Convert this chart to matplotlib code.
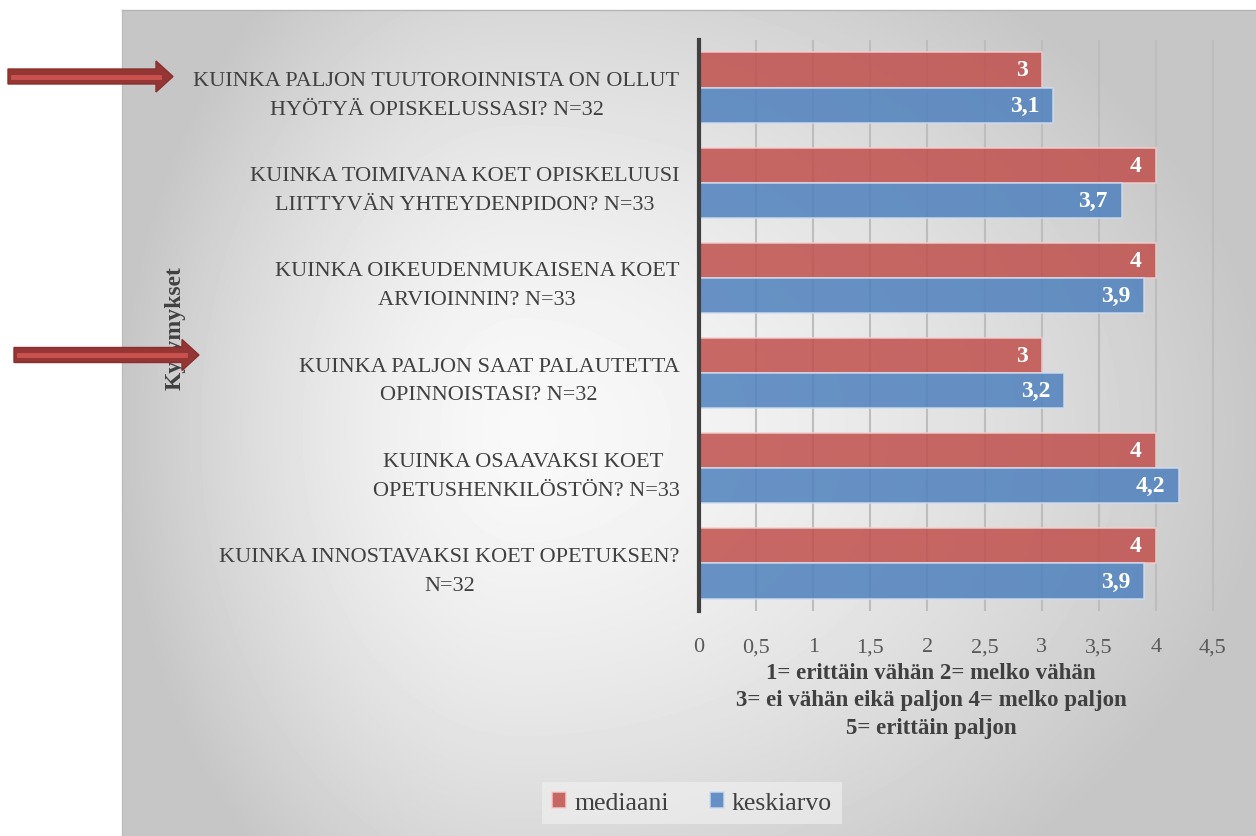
import numpy as np
import matplotlib.pyplot as plt
from matplotlib.patches import Polygon
from matplotlib.ticker import FuncFormatter

# kysymykset ylhaalta alas
kysymykset = [
    "KUINKA PALJON TUUTOROINNISTA ON OLLUT\nHYÖTYÄ OPISKELUSSASI? N=32",
    "KUINKA TOIMIVANA KOET OPISKELUUSI\nLIITTYVÄN YHTEYDENPIDON? N=33",
    "KUINKA OIKEUDENMUKAISENA KOET\nARVIOINNIN? N=33",
    "KUINKA PALJON SAAT PALAUTETTA\nOPINNOISTASI? N=32",
    "KUINKA OSAAVAKSI KOET \nOPETUSHENKILÖSTÖN? N=33",
    "KUINKA INNOSTAVAKSI KOET OPETUKSEN?\nN=32",
]
mediaani = [3, 4, 4, 3, 4, 4]
keskiarvo = [3.1, 3.7, 3.9, 3.2, 4.2, 3.9]
x_ticks = [0, 0.5, 1, 1.5, 2, 2.5, 3, 3.5, 4, 4.5]
selite = ("1= erittäin vähän 2= melko vähän\n"
          "3= ei vähän eikä paljon 4= melko paljon\n"
          "5= erittäin paljon")

SERIF = ["Liberation Serif", "DejaVu Serif"]
W, H = 1256, 837
fig = plt.figure(figsize=(W / 100, H / 100), dpi=100)


def fx(px):
    return px / W


def fy(py):
    return 1 - py / H


# harmaa liukuvari taustalle
bg = fig.add_axes([fx(122), 0, 1 - fx(122), fy(11)])
yy, xx = np.mgrid[0:826, 0:1134].astype(float)
cx, cy = 398, 420
rx = np.where(xx < cx, 400.0, 750.0)
r = np.sqrt(((xx - cx) / rx) ** 2 + ((yy - cy) / 560.0) ** 2)
shade = 0.975 - 0.2 * np.clip(r, 0, 1) ** 1.5
bg.imshow(shade, cmap="gray", vmin=0, vmax=1, aspect="auto", interpolation="bilinear")
bg.axis("off")
fig.add_artist(plt.Line2D([fx(122), 1], [fy(11), fy(11)], color="#b5b5b5", lw=1))
fig.add_artist(plt.Line2D([fx(122), fx(122)], [0, fy(11)], color="#bdbdbd", lw=1))

# varsinainen kaavio
ax = fig.add_axes([fx(699), fy(612), 571 / W, (612 - 41) / H])
ax.set_facecolor("none")
y = np.arange(len(kysymykset))
h = 0.37
ax.barh(y - h / 2, mediaani, height=h, color="#C0504D", alpha=0.85,
        edgecolor="#f3cfce", linewidth=1.2, label="mediaani", zorder=3)
ax.barh(y + h / 2, keskiarvo, height=h, color="#4F81BD", alpha=0.85,
        edgecolor="#cfdcf0", linewidth=1.2, label="keskiarvo", zorder=3)

for i in range(len(kysymykset)):
    for val, off in ((mediaani[i], -h / 2), (keskiarvo[i], h / 2)):
        ax.annotate(f"{val:g}".replace(".", ","), (val, i + off),
                    xytext=(-10, 0), textcoords="offset points",
                    ha="right", va="center", color="white", fontsize=17,
                    fontweight="bold", family=SERIF, zorder=4)

ax.set_xlim(0, 5)
ax.set_ylim(len(kysymykset) - 0.5, -0.5)
ax.set_xticks(x_ticks)
ax.xaxis.set_major_formatter(FuncFormatter(lambda v, p: f"{v:g}".replace(".", ",")))
ax.set_yticks(y)
ax.set_yticklabels(kysymykset, family=SERIF, multialignment="center", linespacing=1.7)
ax.xaxis.grid(True, color="#bdbdbd", linewidth=1.5, zorder=0)
ax.set_axisbelow(True)
for s in ("top", "right", "bottom"):
    ax.spines[s].set_visible(False)
ax.spines["left"].set_color("#404040")
ax.spines["left"].set_linewidth(3)
ax.spines["left"].set_zorder(5)
ax.tick_params(axis="x", length=0, pad=19, labelsize=16, labelcolor="#595959")
ax.tick_params(axis="y", length=0, pad=14, labelsize=16, labelcolor="#404040")
for t in ax.get_xticklabels():
    t.set_family(SERIF)

fig.text(fx(931), fy(663), selite, ha="center", va="top", fontsize=16.5,
         fontweight="bold", color="#404040", family=SERIF, linespacing=1.4)
fig.text(fx(175), fy(328), "Kysymykset", rotation=90, ha="center", va="center",
         fontsize=17, fontweight="bold", color="#404040", family=SERIF)

leg = fig.legend(loc="center", bbox_to_anchor=(fx(692), fy(804)), ncol=2,
                 frameon=True, fancybox=False, handlelength=0.55, handleheight=0.55,
                 handletextpad=0.3, columnspacing=1.6,
                 prop={"family": SERIF, "size": 18.5})
leg.get_frame().set_facecolor("#f2f2f2")
leg.get_frame().set_alpha(0.6)
leg.get_frame().set_edgecolor("none")
for t in leg.get_texts():
    t.set_color("#404040")


# nuolet
def nuoli(x0, x1, yc):
    pts = [(x0, yc - 7.5), (x1 - 17, yc - 7.5), (x1 - 17, yc - 15.5), (x1, yc),
           (x1 - 17, yc + 15.5), (x1 - 17, yc + 7.5), (x0, yc + 7.5)]
    fig.add_artist(Polygon([(fx(a), fy(b)) for a, b in pts], closed=True,
                           facecolor="#943634", edgecolor="#8a2f2d", lw=1,
                           transform=fig.transFigure, zorder=10))
    fig.add_artist(plt.Line2D([fx(x0 + 5), fx(x1 - 14)], [fy(yc), fy(yc)],
                              color="#c9524f", lw=3.5, zorder=11))


nuoli(8, 173, 77.5)
nuoli(14, 199, 356)

fig.savefig("out.png", dpi=100)
